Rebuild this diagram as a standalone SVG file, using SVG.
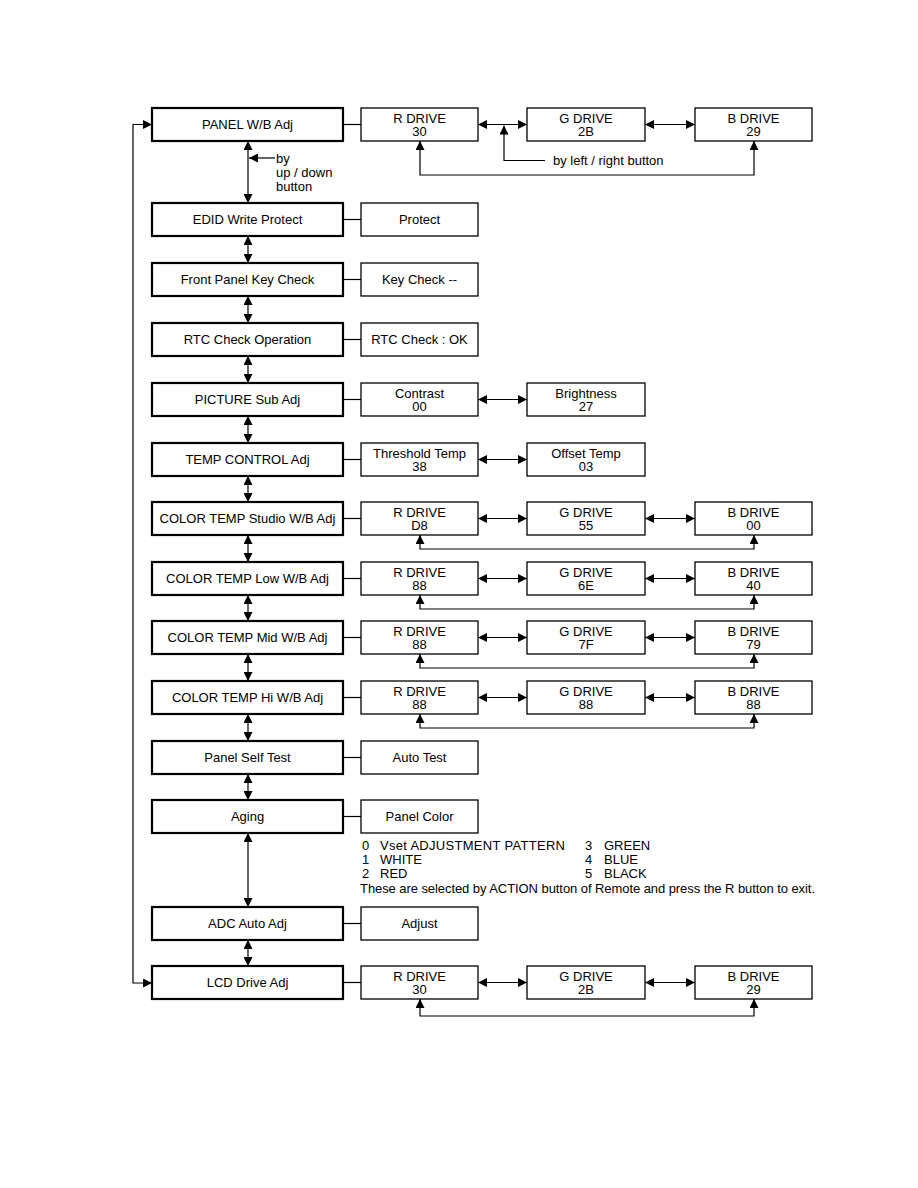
<svg xmlns="http://www.w3.org/2000/svg" width="918" height="1188" viewBox="0 0 918 1188">
<style>
text{font-family:"Liberation Sans",Arial,sans-serif;font-size:13px;fill:#000}
.c{text-anchor:middle}
.m{fill:#fff;stroke:#000;stroke-width:2.2}
.s{fill:#fff;stroke:#000;stroke-width:1.3}
.ln{fill:none;stroke:#000;stroke-width:1.2}
.da{fill:none;stroke:#000;stroke-width:1.2;marker-start:url(#ah);marker-end:url(#ah)}
.sa{fill:none;stroke:#000;stroke-width:1.2;marker-end:url(#ah)}
</style>
<defs>
<marker id="ah" viewBox="0 0 10 10" refX="10" refY="5" markerWidth="10" markerHeight="9" markerUnits="userSpaceOnUse" orient="auto-start-reverse">
<path d="M0,0 L10,5 L0,10 z" fill="#000"/>
</marker>
</defs>
<rect width="918" height="1188" fill="#fff"/>

<g id="connectors">
<path class="da" d="M152,124.5 H133 V983 H152"/>
<line class="da" x1="248" y1="141" x2="248" y2="203"/>
<line class="da" x1="248" y1="236" x2="248" y2="263"/>
<line class="da" x1="248" y1="296" x2="248" y2="323"/>
<line class="da" x1="248" y1="356" x2="248" y2="383"/>
<line class="da" x1="248" y1="416" x2="248" y2="443"/>
<line class="da" x1="248" y1="476" x2="248" y2="502"/>
<line class="da" x1="248" y1="535" x2="248" y2="562"/>
<line class="da" x1="248" y1="595" x2="248" y2="621"/>
<line class="da" x1="248" y1="654" x2="248" y2="681"/>
<line class="da" x1="248" y1="714" x2="248" y2="741"/>
<line class="da" x1="248" y1="774" x2="248" y2="800"/>
<line class="da" x1="248" y1="833" x2="248" y2="907"/>
<line class="da" x1="248" y1="940" x2="248" y2="966"/>
<line class="sa" x1="275" y1="158" x2="249" y2="158"/>
<line class="ln" x1="343" y1="124.5" x2="361" y2="124.5"/>
<line class="ln" x1="343" y1="219.5" x2="361" y2="219.5"/>
<line class="ln" x1="343" y1="279.5" x2="361" y2="279.5"/>
<line class="ln" x1="343" y1="339.5" x2="361" y2="339.5"/>
<line class="ln" x1="343" y1="399.5" x2="361" y2="399.5"/>
<line class="ln" x1="343" y1="459.5" x2="361" y2="459.5"/>
<line class="ln" x1="343" y1="518.5" x2="361" y2="518.5"/>
<line class="ln" x1="343" y1="578.5" x2="361" y2="578.5"/>
<line class="ln" x1="343" y1="637.5" x2="361" y2="637.5"/>
<line class="ln" x1="343" y1="697.5" x2="361" y2="697.5"/>
<line class="ln" x1="343" y1="757.5" x2="361" y2="757.5"/>
<line class="ln" x1="343" y1="816.5" x2="361" y2="816.5"/>
<line class="ln" x1="343" y1="923.5" x2="361" y2="923.5"/>
<line class="ln" x1="343" y1="982.5" x2="361" y2="982.5"/>
<line class="da" x1="478" y1="124.5" x2="527" y2="124.5"/>
<line class="da" x1="645" y1="124.5" x2="695" y2="124.5"/>
<line class="da" x1="478" y1="399.5" x2="527" y2="399.5"/>
<line class="da" x1="478" y1="459.5" x2="527" y2="459.5"/>
<line class="da" x1="478" y1="518.5" x2="527" y2="518.5"/>
<line class="da" x1="645" y1="518.5" x2="695" y2="518.5"/>
<line class="da" x1="478" y1="578.5" x2="527" y2="578.5"/>
<line class="da" x1="645" y1="578.5" x2="695" y2="578.5"/>
<line class="da" x1="478" y1="637.5" x2="527" y2="637.5"/>
<line class="da" x1="645" y1="637.5" x2="695" y2="637.5"/>
<line class="da" x1="478" y1="697.5" x2="527" y2="697.5"/>
<line class="da" x1="645" y1="697.5" x2="695" y2="697.5"/>
<line class="da" x1="478" y1="982.5" x2="527" y2="982.5"/>
<line class="da" x1="645" y1="982.5" x2="695" y2="982.5"/>
<path class="da" d="M420,141 V175 H754 V141"/>
<path class="sa" d="M545,160.5 H504 V125.5"/>
<path class="da" d="M420,535 V549 H754 V535"/>
<path class="da" d="M420,595 V609 H754 V595"/>
<path class="da" d="M420,654 V668 H754 V654"/>
<path class="da" d="M420,714 V728 H754 V714"/>
<path class="da" d="M420,999 V1016 H754 V999"/>
</g>

<g id="panel-wb">
<rect class="m" x="152" y="108" width="191" height="33"/>
<text class="c" x="247.5" y="129">PANEL W/B Adj</text>
</g>
<g id="panel-wb-r"><rect class="s" x="361" y="108" width="117" height="33"/><text class="c" x="419.5" y="122.5">R DRIVE</text><text class="c" x="419.5" y="135.5">30</text></g>
<g id="panel-wb-g"><rect class="s" x="527" y="108" width="118" height="33"/><text class="c" x="586" y="122.5">G DRIVE</text><text class="c" x="586" y="135.5">2B</text></g>
<g id="panel-wb-b"><rect class="s" x="695" y="108" width="117" height="33"/><text class="c" x="753.5" y="122.5">B DRIVE</text><text class="c" x="753.5" y="135.5">29</text></g>
<g id="label-updown"><text x="276" y="163">by</text><text x="276" y="177">up / down</text><text x="276" y="191">button</text></g>
<g id="label-leftright"><text x="553" y="165">by left / right button</text></g>

<g id="edid"><rect class="m" x="152" y="203" width="191" height="33"/><text class="c" x="247.5" y="224">EDID Write Protect</text></g>
<g id="edid-protect"><rect class="s" x="361" y="203" width="117" height="33"/><text class="c" x="419.5" y="224">Protect</text></g>

<g id="keycheck"><rect class="m" x="152" y="263" width="191" height="33"/><text class="c" x="247.5" y="284">Front Panel Key Check</text></g>
<g id="keycheck-sub"><rect class="s" x="361" y="263" width="117" height="33"/><text class="c" x="419.5" y="284">Key Check --</text></g>

<g id="rtc"><rect class="m" x="152" y="323" width="191" height="33"/><text class="c" x="247.5" y="344">RTC Check Operation</text></g>
<g id="rtc-sub"><rect class="s" x="361" y="323" width="117" height="33"/><text class="c" x="419.5" y="344">RTC Check : OK</text></g>

<g id="picture"><rect class="m" x="152" y="383" width="191" height="33"/><text class="c" x="247.5" y="404">PICTURE Sub Adj</text></g>
<g id="picture-contrast"><rect class="s" x="361" y="383" width="117" height="33"/><text class="c" x="419.5" y="397.5">Contrast</text><text class="c" x="419.5" y="410.5">00</text></g>
<g id="picture-brightness"><rect class="s" x="527" y="383" width="118" height="33"/><text class="c" x="586" y="397.5">Brightness</text><text class="c" x="586" y="410.5">27</text></g>

<g id="temp"><rect class="m" x="152" y="443" width="191" height="33"/><text class="c" x="247.5" y="464">TEMP CONTROL Adj</text></g>
<g id="temp-threshold"><rect class="s" x="361" y="443" width="117" height="33"/><text class="c" x="419.5" y="457.5">Threshold Temp</text><text class="c" x="419.5" y="470.5">38</text></g>
<g id="temp-offset"><rect class="s" x="527" y="443" width="118" height="33"/><text class="c" x="586" y="457.5">Offset Temp</text><text class="c" x="586" y="470.5">03</text></g>

<g id="ct-studio"><rect class="m" x="152" y="502" width="191" height="33"/><text class="c" x="247.5" y="523">COLOR TEMP Studio W/B Adj</text></g>
<g id="ct-studio-r"><rect class="s" x="361" y="502" width="117" height="33"/><text class="c" x="419.5" y="516.5">R DRIVE</text><text class="c" x="419.5" y="529.5">D8</text></g>
<g id="ct-studio-g"><rect class="s" x="527" y="502" width="118" height="33"/><text class="c" x="586" y="516.5">G DRIVE</text><text class="c" x="586" y="529.5">55</text></g>
<g id="ct-studio-b"><rect class="s" x="695" y="502" width="117" height="33"/><text class="c" x="753.5" y="516.5">B DRIVE</text><text class="c" x="753.5" y="529.5">00</text></g>

<g id="ct-low"><rect class="m" x="152" y="562" width="191" height="33"/><text class="c" x="247.5" y="583">COLOR TEMP Low W/B Adj</text></g>
<g id="ct-low-r"><rect class="s" x="361" y="562" width="117" height="33"/><text class="c" x="419.5" y="576.5">R DRIVE</text><text class="c" x="419.5" y="589.5">88</text></g>
<g id="ct-low-g"><rect class="s" x="527" y="562" width="118" height="33"/><text class="c" x="586" y="576.5">G DRIVE</text><text class="c" x="586" y="589.5">6E</text></g>
<g id="ct-low-b"><rect class="s" x="695" y="562" width="117" height="33"/><text class="c" x="753.5" y="576.5">B DRIVE</text><text class="c" x="753.5" y="589.5">40</text></g>

<g id="ct-mid"><rect class="m" x="152" y="621" width="191" height="33"/><text class="c" x="247.5" y="642">COLOR TEMP Mid W/B Adj</text></g>
<g id="ct-mid-r"><rect class="s" x="361" y="621" width="117" height="33"/><text class="c" x="419.5" y="635.5">R DRIVE</text><text class="c" x="419.5" y="648.5">88</text></g>
<g id="ct-mid-g"><rect class="s" x="527" y="621" width="118" height="33"/><text class="c" x="586" y="635.5">G DRIVE</text><text class="c" x="586" y="648.5">7F</text></g>
<g id="ct-mid-b"><rect class="s" x="695" y="621" width="117" height="33"/><text class="c" x="753.5" y="635.5">B DRIVE</text><text class="c" x="753.5" y="648.5">79</text></g>

<g id="ct-hi"><rect class="m" x="152" y="681" width="191" height="33"/><text class="c" x="247.5" y="702">COLOR TEMP Hi W/B Adj</text></g>
<g id="ct-hi-r"><rect class="s" x="361" y="681" width="117" height="33"/><text class="c" x="419.5" y="695.5">R DRIVE</text><text class="c" x="419.5" y="708.5">88</text></g>
<g id="ct-hi-g"><rect class="s" x="527" y="681" width="118" height="33"/><text class="c" x="586" y="695.5">G DRIVE</text><text class="c" x="586" y="708.5">88</text></g>
<g id="ct-hi-b"><rect class="s" x="695" y="681" width="117" height="33"/><text class="c" x="753.5" y="695.5">B DRIVE</text><text class="c" x="753.5" y="708.5">88</text></g>

<g id="selftest"><rect class="m" x="152" y="741" width="191" height="33"/><text class="c" x="247.5" y="762">Panel Self Test</text></g>
<g id="selftest-sub"><rect class="s" x="361" y="741" width="117" height="33"/><text class="c" x="419.5" y="762">Auto Test</text></g>

<g id="aging"><rect class="m" x="152" y="800" width="191" height="33"/><text class="c" x="247.5" y="821">Aging</text></g>
<g id="aging-sub"><rect class="s" x="361" y="800" width="117" height="33"/><text class="c" x="419.5" y="821">Panel Color</text></g>
<g id="aging-notes">
<text x="362" y="850">0</text><text x="380" y="850" textLength="185">Vset ADJUSTMENT PATTERN</text>
<text x="362" y="864">1</text><text x="380" y="864">WHITE</text>
<text x="362" y="878">2</text><text x="380" y="878">RED</text>
<text x="585" y="850">3</text><text x="604" y="850">GREEN</text>
<text x="585" y="864">4</text><text x="604" y="864">BLUE</text>
<text x="585" y="878">5</text><text x="604" y="878">BLACK</text>
<text x="360" y="893" textLength="455">These are selected by ACTION button of Remote and press the R button to exit.</text>
</g>

<g id="adc"><rect class="m" x="152" y="907" width="191" height="33"/><text class="c" x="247.5" y="928">ADC Auto Adj</text></g>
<g id="adc-sub"><rect class="s" x="361" y="907" width="117" height="33"/><text class="c" x="419.5" y="928">Adjust</text></g>

<g id="lcd"><rect class="m" x="152" y="966" width="191" height="33"/><text class="c" x="247.5" y="987">LCD Drive Adj</text></g>
<g id="lcd-r"><rect class="s" x="361" y="966" width="117" height="33"/><text class="c" x="419.5" y="980.5">R DRIVE</text><text class="c" x="419.5" y="993.5">30</text></g>
<g id="lcd-g"><rect class="s" x="527" y="966" width="118" height="33"/><text class="c" x="586" y="980.5">G DRIVE</text><text class="c" x="586" y="993.5">2B</text></g>
<g id="lcd-b"><rect class="s" x="695" y="966" width="117" height="33"/><text class="c" x="753.5" y="980.5">B DRIVE</text><text class="c" x="753.5" y="993.5">29</text></g>
</svg>
